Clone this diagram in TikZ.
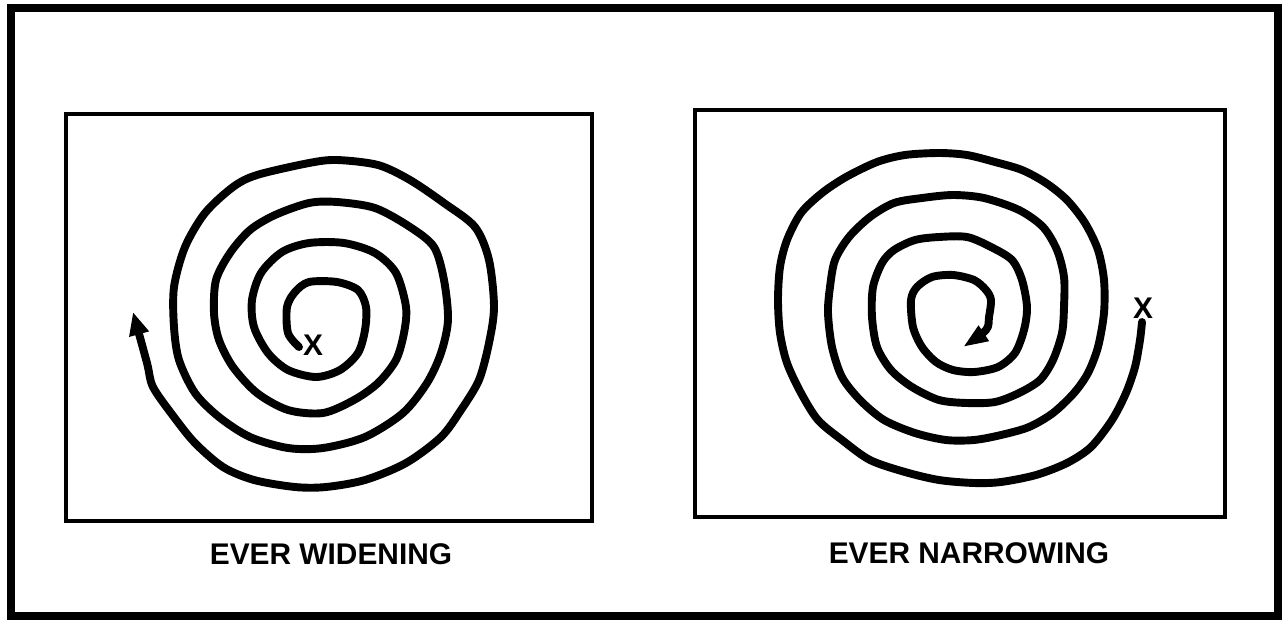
\documentclass[tikz,border=0pt]{standalone}
\usepackage{fontspec}
\setmainfont{Liberation Sans}
\usetikzlibrary{arrows.meta}

\begin{document}
\begin{tikzpicture}[
  x=0.02cm, y=-0.02cm,
  border/.style={draw, line width=4.3pt},
  panel/.style={draw, line width=2.5pt},
  spiral/.style={line width=4.5pt, line cap=round, line join=round},
  caption/.style={inner sep=0pt, font=\fontsize{17}{20}\selectfont\bfseries},
  xmark/.style={inner sep=0pt, font=\fontsize{17}{20}\selectfont\bfseries},
]
  \useasboundingbox (0,0) rectangle (1282,620);
  \draw[border] (11,8) rectangle (1278,616);

  \draw[panel] (66,114) rectangle (592,521);
  \draw[panel] (695,110) rectangle (1225,517);

  % ever widening
  \node[xmark] (startW) at (313,345) {X};
  \draw[spiral, -{Triangle[length=0.46cm, width=0.38cm]}] plot[smooth] coordinates {
    (299,347) (288,333) (287,307) (295,292) (309,282) (337,282) (358,290) (366,307)
    (365,330) (358,353) (340,370) (316,377) (288,370) (268,353) (254,327) (252,300)
    (261,273) (282,252) (309,243) (344,243) (375,253) (396,273) (406,307) (404,333)
    (396,360) (378,383) (354,400) (323,413) (288,410) (257,393) (233,367) (219,340)
    (214,313) (216,280) (230,253) (250,230) (275,215) (309,203) (337,202) (375,208)
    (410,227) (434,247) (444,280) (448,320) (441,353) (427,383) (403,413) (365,437)
    (323,448) (288,448) (250,437) (219,417) (195,393) (179,360) (174,327) (174,287)
    (185,247) (205,213) (233,187) (257,175) (309,163) (337,160) (378,165) (410,180)
    (444,203) (475,227) (489,260) (494,307) (489,343) (479,380) (461,410) (441,437)
    (406,463) (365,480) (326,487) (295,487) (254,480) (223,467) (195,443) (174,417)
    (153,387) (147,363) (133,312)};
  \node[caption] (widen) at (331,554) {EVER WIDENING};

  % ever narrowing
  \node[xmark] (startN) at (1143,308) {X};
  \draw[spiral, -{Triangle[length=0.5cm, width=0.34cm]}] plot[smooth] coordinates {
    (1142,322) (1140,340) (1135,367) (1126,393) (1112,420) (1091,447) (1067,463) (1036,475)
    (1001,482) (974,483) (939,480) (905,472) (870,460) (842,440) (818,420) (801,393)
    (787,363) (780,333) (778,300) (780,267) (787,240) (801,213) (822,193) (846,177)
    (877,162) (905,155) (939,153) (967,155) (995,162) (1022,170) (1046,183) (1067,200)
    (1085,223) (1098,250) (1104,280) (1104,313) (1098,347) (1088,373) (1074,393) (1053,413)
    (1029,427) (1001,435) (974,440) (946,440) (915,433) (884,420) (860,400) (842,377)
    (832,347) (828,313) (830,287) (835,260) (849,237) (870,217) (894,203) (922,198)
    (953,195) (984,198) (1019,210) (1043,227) (1057,250) (1064,277) (1064,307) (1062,333)
    (1053,360) (1040,380) (1019,393) (995,402) (967,403) (939,400) (912,387) (891,370)
    (877,347) (872,317) (873,287) (882,263) (894,250) (915,240) (939,237) (967,237)
    (991,247) (1012,260) (1022,280) (1027,307) (1024,330) (1015,353) (998,367) (974,372)
    (953,370) (936,362) (922,347) (913,327) (911,300) (917,287) (932,277) (953,275)
    (974,280) (986,290) (991,300) (989,317) (986,330) (963,347)};
  \node[caption] (narrow) at (969,553) {EVER NARROWING};
\end{tikzpicture}
\end{document}
